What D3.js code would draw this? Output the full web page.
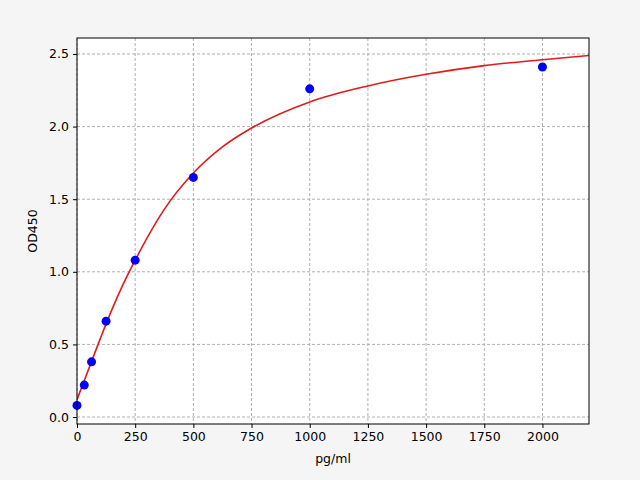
<!DOCTYPE html>
<html><head><meta charset="utf-8">
<script src="https://cdn.jsdelivr.net/npm/d3@7"></script>
<style>body{margin:0;background:#f5f5f5}text{font-family:"DejaVu Sans",sans-serif}</style>
</head><body>
<svg id="c" width="640" height="480"></svg>
<script>
const conc = [0, 31.25, 62.5, 125, 250, 500, 1000, 2000];
const od = [0.08, 0.22, 0.38, 0.66, 1.08, 1.65, 2.26, 2.41];
// fitted curve
const fitX = [0, 50, 100, 150, 200, 250, 300, 375, 500, 625, 750, 1000, 1250, 1500, 1750, 2000, 2200];
const fitY = [0.12, 0.33, 0.54, 0.74, 0.92, 1.08, 1.23, 1.43, 1.68, 1.86, 1.99, 2.17, 2.28, 2.36, 2.42, 2.46, 2.49];
const xTicks = [0, 250, 500, 750, 1000, 1250, 1500, 1750, 2000];
const yTicks = [0, 0.5, 1, 1.5, 2, 2.5];

const svg = d3.select('#c');
const L = 77, R = 589, T = 38, B = 424;
const x = d3.scaleLinear().domain([0, 2200]).range([L, R]);
const y = d3.scaleLinear().domain([-0.048, 2.61]).range([B, T]);

svg.append('rect').attr('x', L).attr('y', T).attr('width', R - L).attr('height', B - T).attr('fill', '#fff');

const g = svg.append('g');
g.selectAll('.gx').data(xTicks).enter().append('line')
  .attr('x1', d => x(d)).attr('x2', d => x(d)).attr('y1', T).attr('y2', B)
  .attr('stroke', '#b0b0b0').attr('stroke-dasharray', '3,2');
g.selectAll('.gy').data(yTicks).enter().append('line')
  .attr('y1', d => y(d)).attr('y2', d => y(d)).attr('x1', L).attr('x2', R)
  .attr('stroke', '#b0b0b0').attr('stroke-dasharray', '3,2');

svg.append('clipPath').attr('id', 'clp').append('rect')
  .attr('x', L).attr('y', T).attr('width', R - L).attr('height', B - T);

svg.append('path').datum(fitX.map((d, i) => [d, fitY[i]]))
  .attr('clip-path', 'url(#clp)')
  .attr('d', d3.line().x(d => x(d[0])).y(d => y(d[1])).curve(d3.curveMonotoneX))
  .attr('fill', 'none').attr('stroke', '#e31a1c').attr('stroke-width', 1.6);

svg.selectAll('.pt').data(conc).enter().append('circle')
  .attr('cx', d => x(d)).attr('cy', (d, i) => y(od[i])).attr('r', 4.5).attr('fill', '#0000ff');

const ax = svg.append('g').attr('transform', `translate(0,${B})`)
  .call(d3.axisBottom(x).tickValues(xTicks).tickSize(4).tickPadding(4).tickFormat(d3.format('d')));
const ay = svg.append('g').attr('transform', `translate(${L},0)`)
  .call(d3.axisLeft(y).tickValues(yTicks).tickSize(4).tickPadding(4).tickFormat(d3.format('.1f')));
[ax, ay].forEach(a => { a.select('.domain').remove(); a.selectAll('text').attr('font-size', 12.5).attr('fill', '#000'); a.selectAll('line').attr('stroke', '#000'); });

svg.append('rect').attr('x', L).attr('y', T).attr('width', R - L).attr('height', B - T)
  .attr('fill', 'none').attr('stroke', '#000').attr('stroke-width', 1);

svg.append('text').attr('x', (L + R) / 2).attr('y', 463).attr('text-anchor', 'middle').attr('font-size', 12.5).text('pg/ml');
svg.append('text').attr('transform', `translate(37,${(T + B) / 2}) rotate(-90)`).attr('text-anchor', 'middle').attr('font-size', 12.5).text('OD450');
</script>
</body></html>
